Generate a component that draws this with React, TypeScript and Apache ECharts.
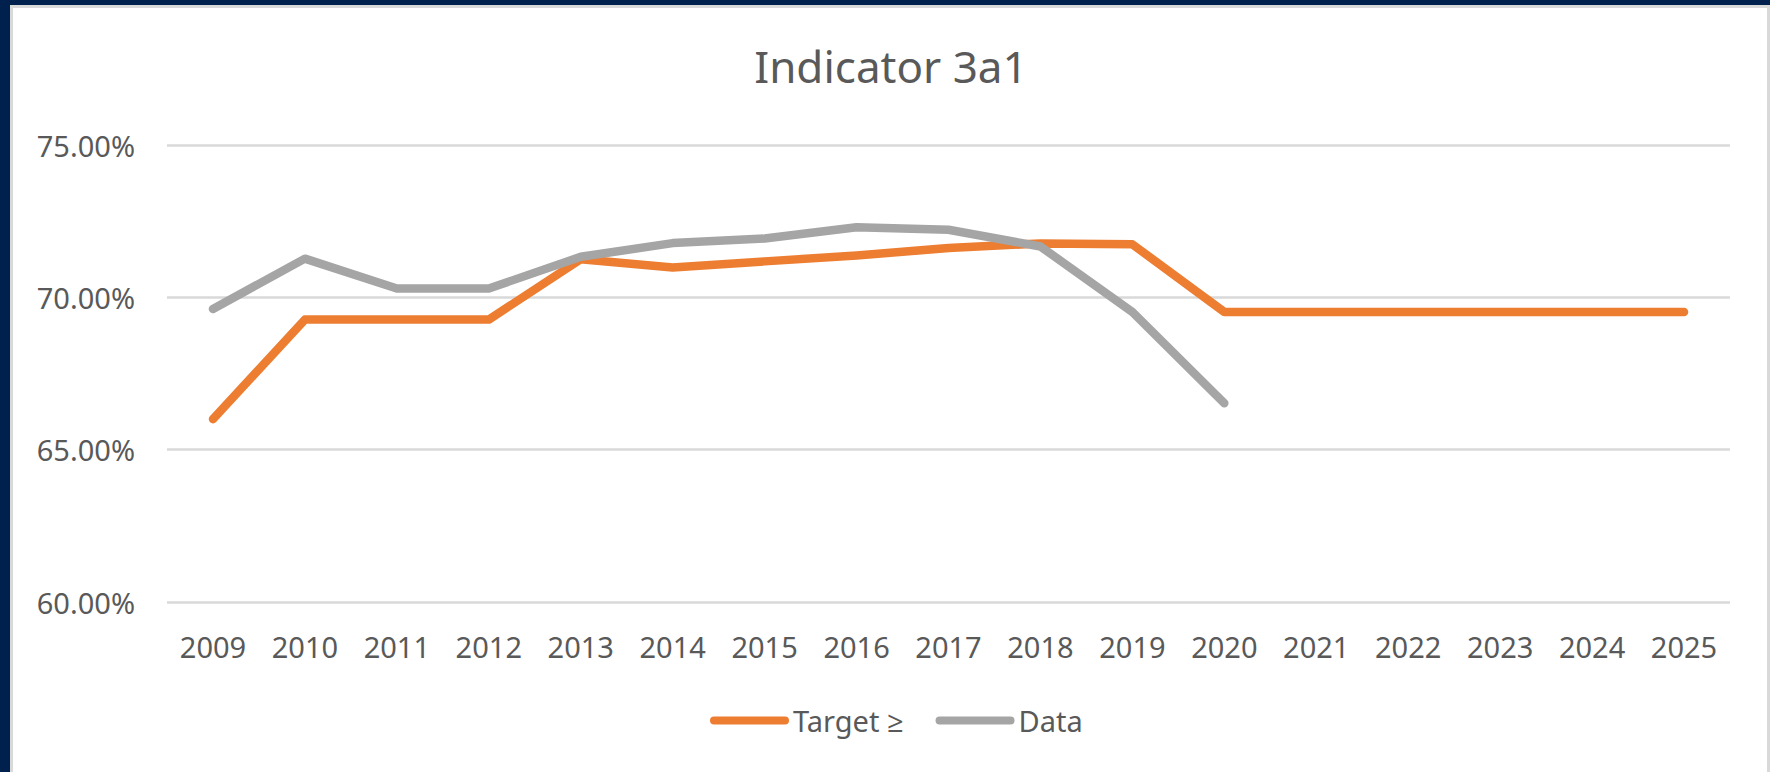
import { useEffect, useRef } from "react";
import * as echarts from "echarts";

const years = ["2009", "2010", "2011", "2012", "2013", "2014", "2015", "2016", "2017", "2018", "2019", "2020", "2021", "2022", "2023", "2024", "2025"];
const targetValues = [66.0, 69.27, 69.27, 69.27, 71.25, 70.98, 71.18, 71.37, 71.62, 71.77, 71.74, 69.52, 69.52, 69.52, 69.52, 69.52, 69.52];
const dataValues = [69.62, 71.27, 70.29, 70.29, 71.33, 71.78, 71.93, 72.3, 72.22, 71.67, 69.52, 66.52];
const yMin = 60;
const yMax = 75;
const yStep = 5;

const FONT = "'Noto Sans', 'Open Sans', sans-serif";
const TEXT = "#595959";

export default function App() {
  const ref = useRef<HTMLDivElement>(null);
  useEffect(() => {
    if (!ref.current) return;
    const chart = echarts.init(ref.current, undefined, { renderer: "svg" });
    chart.setOption({
      animation: false,
      backgroundColor: "#00204E",
      textStyle: { fontFamily: FONT },
      graphic: [
        {
          type: "rect",
          z: -10,
          silent: true,
          shape: { x: 11.5, y: 6.5, width: 1757, height: 800 },
          style: { fill: "#ffffff", stroke: "#D9D9D9", lineWidth: 3 },
        },
        {
          type: "text",
          x: 891,
          y: 65.5,
          silent: true,
          style: {
            text: "Indicator 3a1",
            fontFamily: FONT,
            fontSize: 44,
            fill: TEXT,
            align: "center",
            verticalAlign: "middle",
          },
        },
      ],
      legend: {
        left: 710,
        top: 706,
        padding: 0,
        itemGap: 32,
        itemWidth: 79,
        itemHeight: 8,
        textStyle: { fontFamily: FONT, fontSize: 29, color: TEXT, padding: [0, 0, 0, -1] },
        data: [
          { name: "Target ≥", icon: "path://M4,0 H75 A4,4 0 0 1 75,8 H4 A4,4 0 0 1 4,0 Z", itemStyle: { color: "#ED7D31" } },
          { name: "Data", icon: "path://M4,0 H75 A4,4 0 0 1 75,8 H4 A4,4 0 0 1 4,0 Z", itemStyle: { color: "#A5A5A5" } },
        ],
      },
      grid: { left: 167, right: 40, top: 145, bottom: 170, containLabel: false, outerBoundsMode: "none" },
      xAxis: {
        type: "category",
        data: years,
        boundaryGap: true,
        axisLine: { show: false },
        axisTick: { show: false },
        axisLabel: { fontFamily: FONT, fontSize: 29, color: TEXT, margin: 44, verticalAlign: "middle" },
      },
      yAxis: {
        type: "value",
        min: yMin,
        max: yMax,
        interval: yStep,
        axisLine: { show: false },
        axisTick: { show: false },
        splitLine: { show: true, lineStyle: { color: "#D9D9D9", width: 2.5 } },
        axisLabel: {
          fontFamily: FONT,
          fontSize: 29,
          color: TEXT,
          margin: 32,
          formatter: (v: number) => v.toFixed(2) + "%",
        },
      },
      series: [
        {
          name: "Target ≥",
          type: "line",
          data: targetValues,
          symbol: "none",
          color: "#ED7D31",
          lineStyle: { color: "#ED7D31", width: 8.5, cap: "round", join: "round" },
          z: 2,
        },
        {
          name: "Data",
          type: "line",
          data: dataValues,
          symbol: "none",
          color: "#A5A5A5",
          lineStyle: { color: "#A5A5A5", width: 8.5, cap: "round", join: "round" },
          z: 3,
        },
      ],
    });
    return () => chart.dispose();
  }, []);
  return (
    <div
      ref={ref}
      style={{ position: "fixed", left: 0, top: 0, width: 1770, height: 772 }}
    />
  );
}
